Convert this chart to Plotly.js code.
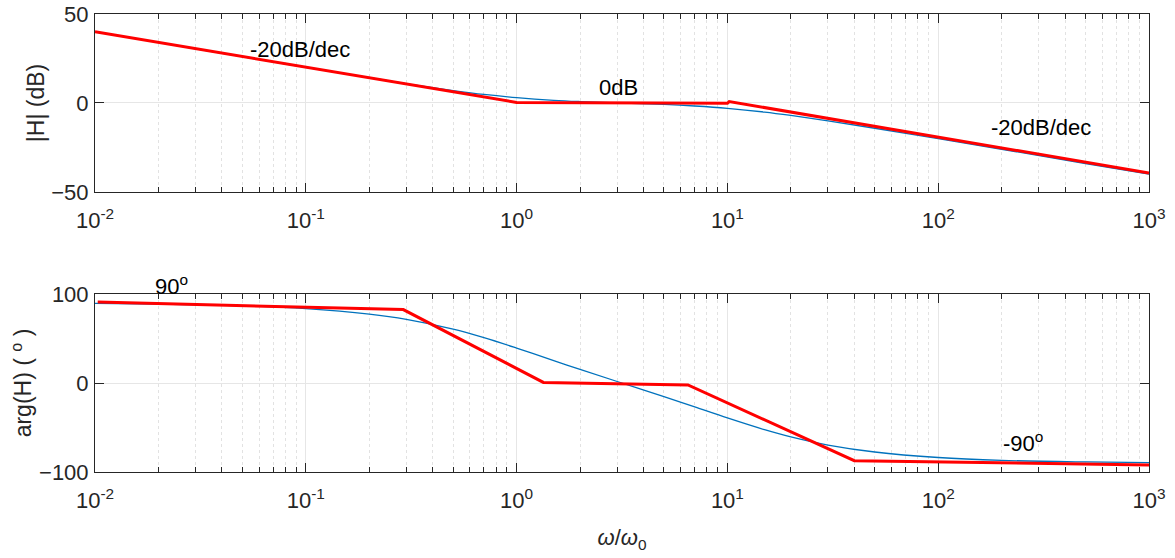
<!DOCTYPE html>
<html><head><meta charset="utf-8">
<script src="https://cdn.plot.ly/plotly-3.0.1.min.js"></script>
<style>html,body{margin:0;padding:0;background:#fff}#chart{width:1175px;height:558px}</style>
</head><body><div id="chart"></div>
<script>
// Frequency samples (omega / omega0) and values
const omega     = [0.01,0.02,0.05,0.1,0.2,0.3,0.5,0.7,1,1.5,2,3,5,7,10,15,20,30,50,100,200,500,1000];
const magDB     = [40.0,34.0,26.0,20.0,14.2,10.8,7.0,4.8,3.0,1.5,0.8,0.1,-0.8,-1.7,-3.0,-5.1,-7.0,-10.0,-14.2,-20.0,-26.0,-34.0,-40.0];
const phaseDeg  = [89.4,88.8,86.9,83.7,77.5,71.6,60.6,51.0,39.3,25.2,15.3,1.7,-15.3,-26.9,-39.3,-52.5,-60.6,-69.7,-77.5,-83.7,-86.9,-88.7,-89.4];
// Asymptotic (straight-line) approximations, red
const magAsymW   = [0.01,1,10,10.2,1000];
const magAsymDB  = [40,0.3,-0.2,0.8,-39.3];
const phAsymW    = [0.0103,0.29,1.34,6.5,40,1000];
const phAsymDeg  = [91,82.5,0.7,-2.2,-87.3,-92];
// Tick labels
const decadeVals  = [0.01,0.1,1,10,100,1000];
const decadeText  = ['10<sup>-2</sup>','10<sup>-1</sup>','10<sup>0</sup>','10<sup>1</sup>','10<sup>2</sup>','10<sup>3</sup>'];
const magTicks    = [-50,0,50];
const phaseTicks  = [-100,0,100];

const minorVals = [];
for (let k = -2; k <= 2; k++) for (let m = 2; m <= 9; m++) minorVals.push(m * Math.pow(10, k));

const FONT = 'Liberation Sans, Arial, Helvetica, sans-serif';
const AX = '#262626';
const BLUE = '#0072BD', RED = '#FF0000';

function xAxis(anchor, withTitle) {
  const a = {
    type: 'log', range: [-2, 3], anchor: anchor,
    tickvals: decadeVals, ticktext: decadeText,
    ticks: 'inside', ticklen: 9, tickcolor: AX, tickwidth: 1,
    showline: true, linecolor: AX, linewidth: 1, mirror: 'ticks',
    showgrid: true, gridcolor: '#e6e6e6', gridwidth: 1,
    minor: { tickvals: minorVals, ticks: 'inside', ticklen: 5, tickcolor: AX,
             showgrid: true, gridcolor: '#e2e2e2', griddash: 'dot', gridwidth: 1 },
    tickfont: { family: FONT, size: 22, color: AX },
    ticklabelstandoff: 9,
    zeroline: false, fixedrange: true
  };
  if (withTitle) a.title = { text: '<i>ω</i>/<i>ω</i><sub>0</sub>', font: { family: FONT, size: 22, color: AX }, standoff: 17 };
  return a;
}
function yAxis(anchor, domain, range, ticks, title) {
  return {
    anchor: anchor, domain: domain, range: range, tickvals: ticks,
    ticks: 'inside', ticklen: 9, tickcolor: AX,
    showline: true, linecolor: AX, linewidth: 1, mirror: 'ticks',
    showgrid: true, gridcolor: '#e6e6e6', zeroline: false,
    tickfont: { family: FONT, size: 22, color: AX },
    ticklabelstandoff: 1,
    title: { text: title, font: { family: FONT, size: 23, color: AX }, standoff: 0 },
    fixedrange: true
  };
}

const data = [
  { x: omega, y: magDB, xaxis: 'x', yaxis: 'y', mode: 'lines', line: { color: BLUE, width: 1.3, shape: 'spline' }, hoverinfo: 'skip' },
  { x: magAsymW, y: magAsymDB, xaxis: 'x', yaxis: 'y', mode: 'lines', line: { color: RED, width: 3 }, hoverinfo: 'skip' },
  { x: omega, y: phaseDeg, xaxis: 'x2', yaxis: 'y2', mode: 'lines', line: { color: BLUE, width: 1.3, shape: 'spline' }, hoverinfo: 'skip' },
  { x: phAsymW, y: phAsymDeg, xaxis: 'x2', yaxis: 'y2', mode: 'lines', line: { color: RED, width: 3 }, hoverinfo: 'skip' }
];

const annFont = { family: FONT, size: 22, color: '#000' };
const ann = (xref, yref, x, y, text) => ({ xref, yref, x, y, text, showarrow: false, xanchor: 'left', yanchor: 'middle', font: annFont });

const layout = {
  width: 1175, height: 558,
  margin: { l: 95, r: 26, t: 14, b: 86 },
  paper_bgcolor: '#fff', plot_bgcolor: '#fff',
  showlegend: false,
  xaxis: xAxis('y', false),
  yaxis: yAxis('x', [0.6114, 1], [-50, 50], magTicks, '|H| (dB)'),
  xaxis2: xAxis('y2', true),
  yaxis2: yAxis('x2', [0, 0.3886], [-100, 100], phaseTicks, 'arg(H) ( <sup>o</sup> )'),
  annotations: [
    ann('x', 'y', Math.log10(0.053), 30, '-20dB/dec'),
    ann('x', 'y', Math.log10(2.41), 8.6, '0dB'),
    ann('x', 'y', Math.log10(174), -13.7, '-20dB/dec'),
    ann('x2', 'y2 domain', Math.log10(0.0188), 1.05, '90<sup>o</sup>'),
    ann('x2', 'y2', Math.log10(198), -66, '-90<sup>o</sup>')
  ]
};

Plotly.newPlot('chart', data, layout, { displayModeBar: false, staticPlot: true });
</script>
</body></html>
